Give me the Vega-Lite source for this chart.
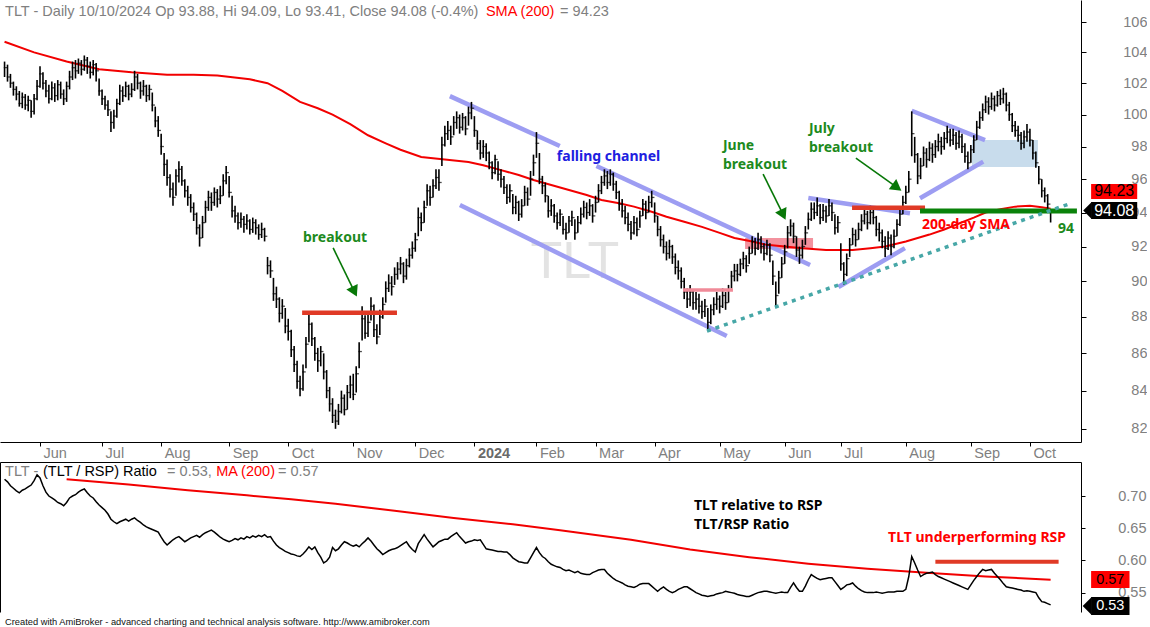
{
  "$schema": "https://vega.github.io/schema/vega-lite/v6.json",
  "padding": 0,
  "background": "#ffffff",
  "spacing": 20,
  "bounds": "flush",
  "config": {
    "view": {"stroke": null},
    "axis": {"labelFont": "Liberation Sans", "labelFontSize": 14.5, "labelColor": "#808080"},
    "text": {"font": "Liberation Sans"}
  },
  "datasets": {
    "bars": [
      {"i":-12,"h":103.4,"l":102.4,"c":103.0,"r":0.726},{"i":-11,"h":103.2,"l":102.1,"c":102.4,"r":0.722},{"i":-10,"h":102.6,"l":101.7,"c":102.0,"r":0.716},{"i":-9,"h":102.1,"l":101.2,"c":101.6,"r":0.712},{"i":-8,"h":101.8,"l":100.9,"c":101.3,"r":0.708},{"i":-7,"h":101.5,"l":100.5,"c":100.7,"r":0.705},{"i":-6,"h":101.4,"l":100.4,"c":101.1,"r":0.709},{"i":-5,"h":101.3,"l":100.3,"c":100.6,"r":0.711},{"i":-4,"h":101.2,"l":100.2,"c":100.9,"r":0.714},{"i":-3,"h":100.9,"l":99.8,"c":100.2,"r":0.717},
      {"i":-2,"h":101.3,"l":100.0,"c":101.0,"r":0.724},{"i":-1,"h":102.2,"l":100.9,"c":101.8,"r":0.733},{"i":0,"h":103.1,"l":101.7,"c":102.6,"r":0.728},{"i":1,"h":102.7,"l":101.6,"c":102.0,"r":0.716},{"i":2,"h":102.2,"l":101.1,"c":101.5,"r":0.706},{"i":3,"h":101.9,"l":100.7,"c":101.0,"r":0.700},{"i":4,"h":102.1,"l":100.9,"c":101.7,"r":0.697},{"i":5,"h":102.0,"l":100.8,"c":101.2,"r":0.694},{"i":6,"h":102.2,"l":100.9,"c":101.9,"r":0.690},{"i":7,"h":102.1,"l":101.0,"c":101.3,"r":0.688},
      {"i":8,"h":101.6,"l":100.6,"c":101.0,"r":0.685},{"i":9,"h":102.1,"l":100.8,"c":101.8,"r":0.690},{"i":10,"h":102.8,"l":101.6,"c":102.4,"r":0.697},{"i":11,"h":103.4,"l":102.2,"c":103.0,"r":0.700},{"i":12,"h":103.5,"l":102.3,"c":102.8,"r":0.702},{"i":13,"h":103.6,"l":102.6,"c":103.3,"r":0.706},{"i":14,"h":103.5,"l":102.5,"c":102.9,"r":0.709},{"i":15,"h":103.8,"l":102.8,"c":103.5,"r":0.711},{"i":16,"h":103.7,"l":102.6,"c":103.1,"r":0.705},{"i":17,"h":103.4,"l":102.3,"c":102.7,"r":0.700},
      {"i":18,"h":103.5,"l":102.5,"c":103.2,"r":0.697},{"i":19,"h":103.3,"l":102.1,"c":102.8,"r":0.691},{"i":20,"h":102.3,"l":101.2,"c":101.5,"r":0.686},{"i":21,"h":101.6,"l":100.6,"c":101.0,"r":0.682},{"i":22,"h":101.2,"l":100.3,"c":100.6,"r":0.678},{"i":23,"h":100.9,"l":99.9,"c":100.3,"r":0.672},{"i":24,"h":100.2,"l":98.9,"c":99.5,"r":0.664},{"i":25,"h":100.3,"l":99.1,"c":99.9,"r":0.660},{"i":26,"h":101.0,"l":99.8,"c":100.7,"r":0.657},{"i":27,"h":101.9,"l":100.6,"c":101.5,"r":0.660},
      {"i":28,"h":101.8,"l":100.8,"c":101.2,"r":0.662},{"i":29,"h":102.1,"l":101.1,"c":101.8,"r":0.664},{"i":30,"h":101.9,"l":100.9,"c":101.3,"r":0.661},{"i":31,"h":102.0,"l":101.1,"c":101.6,"r":0.664},{"i":32,"h":102.8,"l":101.5,"c":102.4,"r":0.666},{"i":33,"h":102.6,"l":101.6,"c":102.0,"r":0.662},{"i":34,"h":102.1,"l":101.0,"c":101.5,"r":0.659},{"i":35,"h":102.2,"l":101.2,"c":101.8,"r":0.655},{"i":36,"h":101.9,"l":100.8,"c":101.2,"r":0.652},{"i":37,"h":101.9,"l":100.9,"c":101.6,"r":0.650},
      {"i":38,"h":101.4,"l":100.2,"c":100.6,"r":0.648},{"i":39,"h":100.5,"l":99.2,"c":99.6,"r":0.646},{"i":40,"h":99.9,"l":98.6,"c":99.0,"r":0.644},{"i":41,"h":98.8,"l":97.5,"c":98.0,"r":0.636},{"i":42,"h":97.6,"l":96.2,"c":96.9,"r":0.629},{"i":43,"h":97.2,"l":95.6,"c":96.1,"r":0.624},{"i":44,"h":96.3,"l":94.9,"c":95.4,"r":0.628},{"i":45,"h":95.8,"l":94.4,"c":94.9,"r":0.632},{"i":46,"h":96.6,"l":95.0,"c":96.2,"r":0.635},{"i":47,"h":97.1,"l":95.8,"c":96.6,"r":0.637},
      {"i":48,"h":96.8,"l":95.6,"c":95.9,"r":0.633},{"i":49,"h":96.0,"l":94.9,"c":95.3,"r":0.629},{"i":50,"h":95.6,"l":94.4,"c":94.9,"r":0.632},{"i":51,"h":95.1,"l":94.0,"c":94.3,"r":0.635},{"i":52,"h":94.6,"l":93.5,"c":93.9,"r":0.637},{"i":53,"h":94.0,"l":92.7,"c":93.1,"r":0.639},{"i":54,"h":93.3,"l":92.0,"c":92.5,"r":0.636},{"i":55,"h":93.8,"l":92.5,"c":93.4,"r":0.640},{"i":56,"h":94.7,"l":93.4,"c":94.3,"r":0.643},{"i":57,"h":95.3,"l":94.1,"c":94.9,"r":0.645},
      {"i":58,"h":95.2,"l":94.1,"c":94.6,"r":0.647},{"i":59,"h":95.5,"l":94.4,"c":95.2,"r":0.644},{"i":60,"h":95.4,"l":94.3,"c":94.8,"r":0.640},{"i":61,"h":95.6,"l":94.5,"c":95.0,"r":0.636},{"i":62,"h":96.3,"l":95.0,"c":95.9,"r":0.633},{"i":63,"h":96.8,"l":95.7,"c":96.4,"r":0.631},{"i":64,"h":96.2,"l":94.9,"c":95.2,"r":0.629},{"i":65,"h":95.0,"l":93.7,"c":94.1,"r":0.631},{"i":66,"h":94.4,"l":93.4,"c":93.8,"r":0.634},{"i":67,"h":94.0,"l":93.0,"c":93.4,"r":0.632},
      {"i":68,"h":94.0,"l":93.1,"c":93.6,"r":0.635},{"i":69,"h":93.8,"l":92.8,"c":93.3,"r":0.633},{"i":70,"h":93.9,"l":93.0,"c":93.5,"r":0.637},{"i":71,"h":93.6,"l":92.7,"c":93.0,"r":0.635},{"i":72,"h":93.7,"l":92.8,"c":93.4,"r":0.638},{"i":73,"h":93.6,"l":92.7,"c":93.1,"r":0.636},{"i":74,"h":93.3,"l":92.4,"c":92.7,"r":0.639},{"i":75,"h":93.4,"l":92.5,"c":93.0,"r":0.637},{"i":76,"h":93.1,"l":92.3,"c":92.6,"r":0.640},{"i":77,"h":91.4,"l":90.4,"c":90.9,"r":0.636},
      {"i":78,"h":91.2,"l":90.2,"c":90.6,"r":0.637},{"i":79,"h":90.2,"l":88.9,"c":89.3,"r":0.630},{"i":80,"h":89.7,"l":88.5,"c":89.0,"r":0.624},{"i":81,"h":89.1,"l":87.7,"c":88.2,"r":0.620},{"i":82,"h":89.0,"l":87.9,"c":88.6,"r":0.617},{"i":83,"h":88.5,"l":87.1,"c":87.5,"r":0.614},{"i":84,"h":87.9,"l":86.7,"c":87.2,"r":0.612},{"i":85,"h":87.3,"l":85.8,"c":86.2,"r":0.610},{"i":86,"h":86.4,"l":85.0,"c":85.4,"r":0.609},{"i":87,"h":85.6,"l":84.1,"c":84.5,"r":0.607},
      {"i":88,"h":84.8,"l":83.7,"c":84.1,"r":0.606},{"i":89,"h":85.4,"l":84.0,"c":85.0,"r":0.610},{"i":90,"h":86.9,"l":85.2,"c":86.5,"r":0.615},{"i":91,"h":88.2,"l":86.6,"c":87.6,"r":0.621},{"i":92,"h":87.7,"l":86.4,"c":86.8,"r":0.617},{"i":93,"h":86.9,"l":85.6,"c":86.0,"r":0.621},{"i":94,"h":86.3,"l":85.0,"c":85.6,"r":0.612},{"i":95,"h":86.4,"l":85.3,"c":86.1,"r":0.605},{"i":96,"h":86.0,"l":84.6,"c":85.0,"r":0.596},{"i":97,"h":85.1,"l":83.6,"c":84.0,"r":0.599},
      {"i":98,"h":84.2,"l":82.9,"c":83.3,"r":0.605},{"i":99,"h":83.6,"l":82.3,"c":82.7,"r":0.620},{"i":100,"h":83.0,"l":82.0,"c":82.4,"r":0.615},{"i":101,"h":83.3,"l":82.2,"c":82.9,"r":0.618},{"i":102,"h":84.0,"l":82.8,"c":83.6,"r":0.624},{"i":103,"h":83.8,"l":82.7,"c":83.0,"r":0.629},{"i":104,"h":84.3,"l":83.0,"c":83.9,"r":0.627},{"i":105,"h":84.8,"l":83.6,"c":84.3,"r":0.624},{"i":106,"h":84.9,"l":83.5,"c":83.8,"r":0.622},{"i":107,"h":85.3,"l":83.9,"c":84.9,"r":0.624},
      {"i":108,"h":86.6,"l":85.2,"c":86.1,"r":0.621},{"i":109,"h":88.6,"l":86.7,"c":87.9,"r":0.626},{"i":110,"h":88.1,"l":86.8,"c":87.1,"r":0.630},{"i":111,"h":88.3,"l":86.9,"c":87.7,"r":0.635},{"i":112,"h":89.1,"l":87.8,"c":88.6,"r":0.630},{"i":113,"h":88.7,"l":86.9,"c":87.3,"r":0.624},{"i":114,"h":87.6,"l":86.5,"c":86.9,"r":0.618},{"i":115,"h":88.4,"l":87.0,"c":88.0,"r":0.614},{"i":116,"h":89.1,"l":87.9,"c":88.7,"r":0.609},{"i":117,"h":90.0,"l":88.8,"c":89.6,"r":0.612},
      {"i":118,"h":90.4,"l":89.4,"c":89.9,"r":0.615},{"i":119,"h":90.3,"l":89.2,"c":89.7,"r":0.617},{"i":120,"h":90.8,"l":89.8,"c":90.4,"r":0.618},{"i":121,"h":91.1,"l":90.1,"c":90.7,"r":0.620},{"i":122,"h":91.4,"l":90.4,"c":91.0,"r":0.623},{"i":123,"h":91.1,"l":89.9,"c":90.3,"r":0.626},{"i":124,"h":91.3,"l":90.1,"c":90.9,"r":0.629},{"i":125,"h":91.9,"l":90.8,"c":91.5,"r":0.622},{"i":126,"h":92.3,"l":91.3,"c":91.9,"r":0.617},{"i":127,"h":92.8,"l":91.7,"c":92.4,"r":0.613},
      {"i":128,"h":94.3,"l":92.6,"c":93.7,"r":0.626},{"i":129,"h":94.0,"l":92.9,"c":93.4,"r":0.633},{"i":130,"h":94.7,"l":93.4,"c":94.3,"r":0.640},{"i":131,"h":95.7,"l":94.4,"c":95.3,"r":0.633},{"i":132,"h":95.6,"l":94.4,"c":94.9,"r":0.627},{"i":133,"h":96.0,"l":94.9,"c":95.6,"r":0.621},{"i":134,"h":96.6,"l":95.4,"c":96.1,"r":0.625},{"i":135,"h":96.6,"l":95.3,"c":95.8,"r":0.629},{"i":136,"h":98.6,"l":96.8,"c":98.1,"r":0.631},{"i":137,"h":99.3,"l":98.0,"c":98.8,"r":0.633},
      {"i":138,"h":99.6,"l":98.4,"c":99.0,"r":0.633},{"i":139,"h":99.3,"l":98.1,"c":98.6,"r":0.637},{"i":140,"h":99.9,"l":98.7,"c":99.5,"r":0.640},{"i":141,"h":100.2,"l":99.1,"c":99.8,"r":0.643},{"i":142,"h":100.0,"l":98.8,"c":99.2,"r":0.637},{"i":143,"h":100.1,"l":99.0,"c":99.8,"r":0.632},{"i":144,"h":99.9,"l":98.7,"c":99.1,"r":0.627},{"i":145,"h":100.5,"l":99.3,"c":100.1,"r":0.629},{"i":146,"h":100.8,"l":99.7,"c":100.4,"r":0.630},{"i":147,"h":99.9,"l":98.6,"c":99.0,"r":0.632},
      {"i":148,"h":99.0,"l":97.8,"c":98.2,"r":0.631},{"i":149,"h":98.4,"l":97.2,"c":97.6,"r":0.632},{"i":150,"h":98.4,"l":97.3,"c":98.0,"r":0.625},{"i":151,"h":98.2,"l":97.1,"c":97.6,"r":0.618},{"i":152,"h":97.7,"l":96.6,"c":97.0,"r":0.617},{"i":153,"h":97.1,"l":96.0,"c":96.4,"r":0.616},{"i":154,"h":97.5,"l":96.3,"c":97.2,"r":0.615},{"i":155,"h":97.1,"l":95.9,"c":96.3,"r":0.614},{"i":156,"h":96.6,"l":95.5,"c":96.0,"r":0.614},{"i":157,"h":96.2,"l":95.1,"c":95.5,"r":0.613},
      {"i":158,"h":95.7,"l":94.5,"c":94.9,"r":0.613},{"i":159,"h":95.7,"l":94.6,"c":95.3,"r":0.609},{"i":160,"h":95.1,"l":93.9,"c":94.3,"r":0.604},{"i":161,"h":95.0,"l":93.9,"c":94.6,"r":0.601},{"i":162,"h":94.7,"l":93.5,"c":93.9,"r":0.598},{"i":163,"h":94.8,"l":93.7,"c":94.4,"r":0.597},{"i":164,"h":95.6,"l":94.4,"c":95.2,"r":0.596},{"i":165,"h":95.5,"l":94.4,"c":94.8,"r":0.596},{"i":166,"h":96.5,"l":95.0,"c":96.0,"r":0.604},{"i":167,"h":97.5,"l":96.2,"c":97.0,"r":0.612},
      {"i":168,"h":98.9,"l":97.3,"c":98.2,"r":0.620},{"i":169,"h":97.6,"l":95.7,"c":96.0,"r":0.612},{"i":170,"h":96.2,"l":95.1,"c":95.6,"r":0.606},{"i":171,"h":95.8,"l":94.6,"c":95.0,"r":0.603},{"i":172,"h":95.0,"l":93.7,"c":94.1,"r":0.598},{"i":173,"h":94.8,"l":93.8,"c":94.4,"r":0.594},{"i":174,"h":94.5,"l":93.4,"c":93.8,"r":0.592},{"i":175,"h":94.0,"l":93.0,"c":93.4,"r":0.590},{"i":176,"h":94.2,"l":93.2,"c":93.9,"r":0.589},{"i":177,"h":93.8,"l":92.7,"c":93.0,"r":0.586},
      {"i":178,"h":93.4,"l":92.4,"c":92.8,"r":0.584},{"i":179,"h":93.8,"l":92.8,"c":93.5,"r":0.585},{"i":180,"h":94.1,"l":93.2,"c":93.7,"r":0.583},{"i":181,"h":93.6,"l":92.4,"c":92.8,"r":0.581},{"i":182,"h":93.8,"l":92.8,"c":93.4,"r":0.583},{"i":183,"h":94.3,"l":93.3,"c":93.9,"r":0.580},{"i":184,"h":94.7,"l":93.7,"c":94.3,"r":0.579},{"i":185,"h":94.6,"l":93.6,"c":94.0,"r":0.578},{"i":186,"h":94.8,"l":93.8,"c":94.4,"r":0.578},{"i":187,"h":94.5,"l":93.4,"c":93.8,"r":0.581},
      {"i":188,"h":95.0,"l":94.0,"c":94.6,"r":0.583},{"i":189,"h":95.7,"l":94.6,"c":95.3,"r":0.585},{"i":190,"h":96.2,"l":95.1,"c":95.8,"r":0.586},{"i":191,"h":96.6,"l":95.6,"c":96.2,"r":0.586},{"i":192,"h":96.5,"l":95.4,"c":95.8,"r":0.580},{"i":193,"h":96.6,"l":95.6,"c":96.3,"r":0.576},{"i":194,"h":96.4,"l":95.3,"c":95.7,"r":0.572},{"i":195,"h":95.9,"l":94.8,"c":95.2,"r":0.569},{"i":196,"h":95.3,"l":94.1,"c":94.5,"r":0.567},{"i":197,"h":94.8,"l":93.7,"c":94.1,"r":0.565},
      {"i":198,"h":94.4,"l":93.3,"c":93.7,"r":0.562},{"i":199,"h":94.0,"l":92.9,"c":93.3,"r":0.560},{"i":200,"h":93.5,"l":92.4,"c":92.8,"r":0.559},{"i":201,"h":93.8,"l":92.7,"c":93.4,"r":0.558},{"i":202,"h":93.7,"l":92.6,"c":93.0,"r":0.560},{"i":203,"h":94.1,"l":93.1,"c":93.8,"r":0.563},{"i":204,"h":94.8,"l":93.8,"c":94.5,"r":0.564},{"i":205,"h":94.7,"l":93.6,"c":94.0,"r":0.564},{"i":206,"h":95.0,"l":94.0,"c":94.6,"r":0.564},{"i":207,"h":95.3,"l":94.3,"c":94.9,"r":0.560},
      {"i":208,"h":94.6,"l":93.4,"c":93.8,"r":0.556},{"i":209,"h":93.8,"l":92.6,"c":93.0,"r":0.552},{"i":210,"h":93.2,"l":92.0,"c":92.4,"r":0.556},{"i":211,"h":92.7,"l":91.6,"c":92.0,"r":0.559},{"i":212,"h":92.3,"l":91.2,"c":91.6,"r":0.555},{"i":213,"h":92.4,"l":91.3,"c":92.0,"r":0.552},{"i":214,"h":92.1,"l":91.0,"c":91.4,"r":0.550},{"i":215,"h":91.6,"l":90.4,"c":90.8,"r":0.552},{"i":216,"h":91.2,"l":90.1,"c":90.6,"r":0.555},{"i":217,"h":90.8,"l":89.6,"c":90.0,"r":0.557},
      {"i":218,"h":90.2,"l":89.0,"c":89.4,"r":0.559},{"i":219,"h":89.6,"l":88.5,"c":89.0,"r":0.559},{"i":220,"h":89.8,"l":88.6,"c":89.4,"r":0.556},{"i":221,"h":89.5,"l":88.4,"c":88.8,"r":0.553},{"i":222,"h":89.4,"l":88.4,"c":89.0,"r":0.550},{"i":223,"h":89.3,"l":88.2,"c":88.6,"r":0.548},{"i":224,"h":88.9,"l":87.9,"c":88.3,"r":0.546},{"i":225,"h":89.0,"l":88.0,"c":88.6,"r":0.545},{"i":226,"h":88.5,"l":87.3,"c":87.7,"r":0.544},{"i":227,"h":88.7,"l":87.6,"c":88.4,"r":0.545},
      {"i":228,"h":89.1,"l":88.1,"c":88.7,"r":0.546},{"i":229,"h":89.4,"l":88.4,"c":89.0,"r":0.548},{"i":230,"h":89.2,"l":88.2,"c":88.6,"r":0.549},{"i":231,"h":89.6,"l":88.5,"c":89.2,"r":0.550},{"i":232,"h":89.4,"l":88.4,"c":88.8,"r":0.552},{"i":233,"h":89.8,"l":88.8,"c":89.5,"r":0.551},{"i":234,"h":90.6,"l":89.6,"c":90.3,"r":0.550},{"i":235,"h":91.0,"l":90.0,"c":90.6,"r":0.549},{"i":236,"h":91.0,"l":90.0,"c":90.4,"r":0.547},{"i":237,"h":91.3,"l":90.3,"c":91.0,"r":0.546},
      {"i":238,"h":91.7,"l":90.7,"c":91.3,"r":0.545},{"i":239,"h":91.5,"l":90.5,"c":90.9,"r":0.544},{"i":240,"h":92.0,"l":91.0,"c":91.6,"r":0.544},{"i":241,"h":92.6,"l":91.6,"c":92.3,"r":0.546},{"i":242,"h":92.5,"l":91.5,"c":91.9,"r":0.548},{"i":243,"h":92.8,"l":91.8,"c":92.4,"r":0.550},{"i":244,"h":92.6,"l":91.6,"c":92.0,"r":0.551},{"i":245,"h":92.2,"l":91.2,"c":91.6,"r":0.552},{"i":246,"h":92.4,"l":91.5,"c":92.1,"r":0.552},{"i":247,"h":92.2,"l":91.1,"c":91.5,"r":0.551},
      {"i":248,"h":91.2,"l":89.8,"c":90.3,"r":0.550},{"i":249,"h":90.0,"l":88.6,"c":89.2,"r":0.549},{"i":250,"h":90.6,"l":89.3,"c":90.2,"r":0.550},{"i":251,"h":91.4,"l":90.2,"c":91.0,"r":0.551},{"i":252,"h":92.1,"l":91.0,"c":91.7,"r":0.550},{"i":253,"h":93.2,"l":91.9,"c":92.8,"r":0.550},{"i":254,"h":93.6,"l":92.6,"c":93.2,"r":0.558},{"i":255,"h":93.4,"l":92.2,"c":92.6,"r":0.565},{"i":256,"h":92.6,"l":91.4,"c":91.8,"r":0.558},{"i":257,"h":92.0,"l":91.0,"c":91.5,"r":0.552},
      {"i":258,"h":92.4,"l":91.3,"c":92.0,"r":0.552},{"i":259,"h":93.2,"l":92.1,"c":92.8,"r":0.560},{"i":260,"h":94.0,"l":93.0,"c":93.6,"r":0.570},{"i":261,"h":94.6,"l":93.5,"c":94.2,"r":0.578},{"i":262,"h":94.6,"l":93.6,"c":94.0,"r":0.575},{"i":263,"h":94.9,"l":93.8,"c":94.4,"r":0.572},{"i":264,"h":94.5,"l":93.3,"c":93.7,"r":0.570},{"i":265,"h":94.5,"l":93.5,"c":94.1,"r":0.571},{"i":266,"h":94.4,"l":93.4,"c":93.8,"r":0.572},{"i":267,"h":94.8,"l":93.8,"c":94.4,"r":0.573},
      {"i":268,"h":94.6,"l":93.5,"c":94.0,"r":0.573},{"i":269,"h":93.9,"l":92.7,"c":93.1,"r":0.567},{"i":270,"h":93.8,"l":92.8,"c":93.4,"r":0.561},{"i":271,"h":92.2,"l":90.6,"c":91.0,"r":0.555},{"i":272,"h":91.1,"l":89.8,"c":90.4,"r":0.558},{"i":273,"h":91.6,"l":90.3,"c":91.3,"r":0.562},{"i":274,"h":92.5,"l":91.4,"c":92.1,"r":0.563},{"i":275,"h":93.1,"l":92.1,"c":92.7,"r":0.565},{"i":276,"h":93.0,"l":92.0,"c":92.4,"r":0.560},{"i":277,"h":93.4,"l":92.4,"c":93.0,"r":0.556},
      {"i":278,"h":93.9,"l":92.9,"c":93.5,"r":0.553},{"i":279,"h":94.3,"l":93.3,"c":93.9,"r":0.551},{"i":280,"h":94.1,"l":93.0,"c":93.4,"r":0.550},{"i":281,"h":94.4,"l":93.3,"c":94.0,"r":0.550},{"i":282,"h":94.3,"l":93.3,"c":93.7,"r":0.550},{"i":283,"h":93.8,"l":92.6,"c":93.0,"r":0.551},{"i":284,"h":93.4,"l":92.3,"c":92.8,"r":0.550},{"i":285,"h":93.0,"l":91.9,"c":92.3,"r":0.549},{"i":286,"h":92.6,"l":91.4,"c":91.9,"r":0.550},{"i":287,"h":92.9,"l":91.8,"c":92.5,"r":0.551},
      {"i":288,"h":92.7,"l":91.5,"c":92.0,"r":0.551},{"i":289,"h":93.0,"l":91.9,"c":92.6,"r":0.551},{"i":290,"h":93.6,"l":92.6,"c":93.3,"r":0.552},{"i":291,"h":94.3,"l":93.2,"c":93.9,"r":0.552},{"i":292,"h":95.0,"l":93.9,"c":94.6,"r":0.552},{"i":293,"h":95.6,"l":94.5,"c":95.2,"r":0.555},{"i":294,"h":96.5,"l":95.2,"c":96.0,"r":0.575},{"i":295,"h":100.2,"l":97.4,"c":98.8,"r":0.606},{"i":296,"h":98.6,"l":97.0,"c":97.5,"r":0.596},{"i":297,"h":97.6,"l":95.7,"c":96.2,"r":0.585},
      {"i":298,"h":97.3,"l":96.0,"c":96.8,"r":0.575},{"i":299,"h":98.0,"l":96.8,"c":97.6,"r":0.578},{"i":300,"h":97.9,"l":96.7,"c":97.2,"r":0.580},{"i":301,"h":98.3,"l":97.1,"c":97.9,"r":0.581},{"i":302,"h":98.2,"l":97.0,"c":97.5,"r":0.582},{"i":303,"h":98.4,"l":97.3,"c":98.0,"r":0.578},{"i":304,"h":98.8,"l":97.7,"c":98.3,"r":0.575},{"i":305,"h":98.6,"l":97.5,"c":98.0,"r":0.573},{"i":306,"h":98.9,"l":97.8,"c":98.5,"r":0.571},{"i":307,"h":99.3,"l":98.2,"c":98.9,"r":0.569},
      {"i":308,"h":99.1,"l":98.0,"c":98.4,"r":0.567},{"i":309,"h":99.1,"l":98.1,"c":98.7,"r":0.565},{"i":310,"h":98.9,"l":97.8,"c":98.2,"r":0.563},{"i":311,"h":99.0,"l":97.9,"c":98.6,"r":0.561},{"i":312,"h":98.8,"l":97.6,"c":98.0,"r":0.559},{"i":313,"h":98.2,"l":97.0,"c":97.4,"r":0.557},{"i":314,"h":97.7,"l":96.6,"c":97.0,"r":0.555},{"i":315,"h":98.1,"l":97.0,"c":97.8,"r":0.562},{"i":316,"h":98.7,"l":97.6,"c":98.4,"r":0.569},{"i":317,"h":99.6,"l":98.4,"c":99.2,"r":0.575},
      {"i":318,"h":100.2,"l":99.1,"c":99.8,"r":0.581},{"i":319,"h":100.7,"l":99.6,"c":100.3,"r":0.586},{"i":320,"h":101.2,"l":100.1,"c":100.8,"r":0.584},{"i":321,"h":101.1,"l":100.0,"c":100.5,"r":0.585},{"i":322,"h":101.4,"l":100.3,"c":101.0,"r":0.586},{"i":323,"h":101.2,"l":100.2,"c":100.6,"r":0.580},{"i":324,"h":101.5,"l":100.5,"c":101.2,"r":0.575},{"i":325,"h":101.6,"l":100.6,"c":101.0,"r":0.570},{"i":326,"h":101.7,"l":100.7,"c":101.3,"r":0.564},{"i":327,"h":101.4,"l":100.2,"c":100.6,"r":0.559},
      {"i":328,"h":100.8,"l":99.6,"c":100.0,"r":0.558},{"i":329,"h":100.1,"l":98.9,"c":99.3,"r":0.557},{"i":330,"h":99.6,"l":98.6,"c":99.0,"r":0.556},{"i":331,"h":99.3,"l":98.3,"c":98.7,"r":0.555},{"i":332,"h":98.9,"l":97.8,"c":98.2,"r":0.554},{"i":333,"h":99.0,"l":97.9,"c":98.6,"r":0.552},{"i":334,"h":99.4,"l":98.3,"c":98.9,"r":0.553},{"i":335,"h":99.1,"l":98.0,"c":98.4,"r":0.552},{"i":336,"h":98.4,"l":97.2,"c":97.6,"r":0.551},{"i":337,"h":97.7,"l":96.7,"c":97.0,"r":0.550},
      {"i":338,"h":96.8,"l":95.7,"c":96.0,"r":0.542},{"i":339,"h":96.0,"l":94.9,"c":95.3,"r":0.536},{"i":340,"h":95.5,"l":94.6,"c":95.0,"r":0.535},{"i":341,"h":95.1,"l":94.0,"c":94.5,"r":0.533},{"i":342,"h":94.09,"l":93.41,"c":94.08,"r":0.531}
    ],
    "sma": [
      {"i":-12,"p":104.7},{"i":-2,"p":104.0},{"i":9,"p":103.4},{"i":20,"p":102.9},{"i":31,"p":102.7},{"i":43,"p":102.55},{"i":52,"p":102.55},{"i":60,"p":102.5},{"i":71,"p":102.25},{"i":77,"p":102.0},{"i":82,"p":101.5},{"i":88,"p":100.8},{"i":94,"p":100.4},{"i":99,"p":100.0},{"i":105,"p":99.4},{"i":111,"p":98.7},{"i":117,"p":98.2},{"i":122,"p":97.8},{"i":129,"p":97.35},{"i":137,"p":97.2},{"i":145,"p":97.05},{"i":150,"p":96.85},{"i":156,"p":96.55},{"i":162,"p":96.25},{"i":167,"p":95.95},{"i":173,"p":95.65},{"i":179,"p":95.35},{"i":185,"p":95.05},{"i":190,"p":94.75},{"i":196,"p":94.55},{"i":201,"p":94.35},{"i":207,"p":94.05},{"i":212,"p":93.75},{"i":218,"p":93.45},{"i":224,"p":93.15},{"i":230,"p":92.8},{"i":235,"p":92.5},{"i":241,"p":92.3},{"i":246,"p":92.1},{"i":252,"p":92.0},{"i":258,"p":91.9},{"i":266,"p":91.8},{"i":275,"p":91.8},{"i":281,"p":91.9},{"i":286,"p":92.0},{"i":293,"p":92.3},{"i":301,"p":92.7},{"i":306,"p":93.0},{"i":311,"p":93.35},{"i":316,"p":93.7},{"i":320,"p":94.0},{"i":325,"p":94.2},{"i":330,"p":94.35},{"i":335,"p":94.4},{"i":339,"p":94.32},{"i":342,"p":94.23}
    ],
    "ma": [
      {"i":9,"v":0.726},{"i":30,"v":0.718},{"i":50,"v":0.709},{"i":70,"v":0.701},{"i":85,"v":0.695},{"i":100,"v":0.688},{"i":120,"v":0.677},{"i":140,"v":0.666},{"i":160,"v":0.656},{"i":176,"v":0.647},{"i":200,"v":0.632},{"i":220,"v":0.617},{"i":240,"v":0.605},{"i":260,"v":0.595},{"i":280,"v":0.587},{"i":300,"v":0.581},{"i":320,"v":0.575},{"i":342,"v":0.570}
    ]
  },
  "vconcat": [
    {
      "width": 1081,
      "height": 442,
      "encoding": {
        "x": {
          "field": "i", "type": "quantitative",
          "scale": {"domain": [-13.54, 352.28], "nice": false, "zero": false},
          "axis": {
            "title": null, "grid": false,
            "values": [0,21,41,64,84,106,127,147,168,188,208,230,252,271,293,315,335],
            "labelExpr": "['Jun','Jul','Aug','Sep','Oct','Nov','Dec','2024','Feb','Mar','Apr','May','Jun','Jul','Aug','Sep','Oct'][indexof([0,21,41,64,84,106,127,147,168,188,208,230,252,271,293,315,335], datum.value)]",
            "domainColor": "#000000", "tickColor": "#000000", "tickSize": 4,
            "labelAlign": "left", "labelOffset": 3, "labelBaseline": "alphabetic", "labelPadding": 11,
            "labelOverlap": false, "labelFlush": false,
            "labelColor": {"condition": {"test": "datum.value == 147", "value": "#6a6a6a"}, "value": "#808080"},
            "labelFontWeight": {"condition": {"test": "datum.value == 147", "value": "bold"}, "value": "normal"}
          }
        },
        "y": {
          "field": "p", "type": "quantitative",
          "scale": {"type": "log", "domain": [81.32, 107.5], "nice": false, "zero": false},
          "axis": {
            "orient": "right", "title": null, "grid": false,
            "values": [82,84,86,88,90,92,94,96,98,100,102,104,106], "format": "d",
            "domainColor": "#000000", "tickColor": "#000000", "tickSize": 5,
            "labelAlign": "right", "labelPadding": 61, "labelBaseline": "middle", "labelOverlap": false
          }
        }
      },
      "layer": [
        {
          "data": {"values": [{"i": 181, "p": 91.1, "t": "TLT"}]},
          "mark": {"type": "text", "font": "Liberation Sans", "fontSize": 52, "color": "#e3e3e3", "align": "center", "baseline": "middle"},
          "encoding": {"text": {"field": "t"}}
        },
        {
          "data": {"values": [{"i": 315.4, "i2": 337.7, "p": 98.4, "p2": 96.74}]},
          "mark": {"type": "rect", "color": "#c8dcec"},
          "encoding": {"x2": {"field": "i2"}, "y2": {"field": "p2"}}
        },
        {
          "data": {"values": [{"i": 238.6, "i2": 261.6, "p": 92.5, "p2": 91.86}]},
          "mark": {"type": "rect", "color": "#f3929e"},
          "encoding": {"x2": {"field": "i2"}, "y2": {"field": "p2"}}
        },
        {
          "data": {"values": [
            {"i": 138.7, "p": 101.17, "i2": 175.9, "p2": 98.03},
            {"i": 188.3, "p": 96.8, "i2": 260.6, "p2": 90.94},
            {"i": 142.1, "p": 94.45, "i2": 232.4, "p2": 86.95},
            {"i": 260, "p": 94.86, "i2": 294.4, "p2": 93.96},
            {"i": 270.2, "p": 89.68, "i2": 292.7, "p2": 91.91},
            {"i": 295, "p": 100.24, "i2": 319.8, "p2": 98.4},
            {"i": 297.8, "p": 94.85, "i2": 319.2, "p2": 97.07}
          ]},
          "mark": {"type": "rule", "color": "#9d9df2", "strokeWidth": 4.5},
          "encoding": {"x2": {"field": "i2"}, "y2": {"field": "p2"}}
        },
        {
          "data": {"name": "sma"},
          "mark": {"type": "line", "color": "#f20000", "strokeWidth": 2},
          "encoding": {}
        },
        {
          "data": {"name": "bars"},
          "mark": {"type": "rule", "color": "#000000", "strokeWidth": 1.6},
          "encoding": {
            "y": {"field": "l", "type": "quantitative", "scale": {"type": "log", "domain": [81.32, 107.5], "nice": false, "zero": false}},
            "y2": {"field": "h"}
          }
        },
        {
          "data": {"name": "bars"},
          "mark": {"type": "tick", "orient": "horizontal", "color": "#000000", "size": 3.5, "thickness": 1.3, "xOffset": 1},
          "encoding": {
            "y": {"field": "c", "type": "quantitative", "scale": {"type": "log", "domain": [81.32, 107.5], "nice": false, "zero": false}}
          }
        },
        {
          "data": {"values": [{"i": 217.6, "i2": 234.5, "p": 89.51}]},
          "mark": {"type": "rule", "color": "#f08a98", "strokeWidth": 3.5},
          "encoding": {"x2": {"field": "i2"}}
        },
        {
          "data": {"values": [{"i": 88.7, "i2": 120.8, "p": 88.24}, {"i": 274.8, "i2": 299.5, "p": 94.29}]},
          "mark": {"type": "rule", "color": "#e03a26", "strokeWidth": 4.5},
          "encoding": {"x2": {"field": "i2"}}
        },
        {
          "data": {"values": [{"i": 297.8, "i2": 350.9, "p": 94.09}]},
          "mark": {"type": "rule", "color": "#0a820a", "strokeWidth": 5},
          "encoding": {"x2": {"field": "i2"}}
        },
        {
          "data": {"values": [{"i": 225.7, "p": 87.22, "i2": 349.2, "p2": 94.57}]},
          "mark": {"type": "rule", "color": "#47a7a7", "strokeWidth": 3.5, "strokeDash": [4, 5]},
          "encoding": {"x2": {"field": "i2"}, "y2": {"field": "p2"}}
        },
        {
          "data": {"values": [
            {"i": 99.2, "p": 91.92, "i2": 106.4, "p2": 89.42},
            {"i": 244.7, "p": 96.31, "i2": 251.5, "p2": 93.87},
            {"i": 276.1, "p": 97.29, "i2": 290.0, "p2": 95.5}
          ]},
          "mark": {"type": "rule", "color": "#087808", "strokeWidth": 1.6},
          "encoding": {"x2": {"field": "i2"}, "y2": {"field": "p2"}}
        },
        {
          "data": {"values": [{"i": 106.4, "p": 89.42}, {"i": 251.5, "p": 93.87}]},
          "mark": {"type": "point", "shape": "triangle-down", "angle": 334, "filled": true, "opacity": 1, "size": 160, "color": "#087808"},
          "encoding": {}
        },
        {
          "data": {"values": [{"i": 290.0, "p": 95.5}]},
          "mark": {"type": "point", "shape": "triangle-down", "angle": 306, "filled": true, "opacity": 1, "size": 160, "color": "#087808"},
          "encoding": {}
        },
        {
          "data": {"values": [
            {"i": 89.0, "p": 92.5, "t": "breakout"},
            {"i": 231.1, "p": 98.03, "t": "June"},
            {"i": 231.1, "p": 96.86, "t": "breakout"},
            {"i": 260.2, "p": 99.09, "t": "July"},
            {"i": 260.2, "p": 97.91, "t": "breakout"},
            {"i": 344.5, "p": 93.03, "t": "94"}
          ]},
          "mark": {"type": "text", "font": "Noto Sans", "fontWeight": "bold", "fontSize": 14, "color": "#1d8a1d", "align": "left", "baseline": "middle"},
          "encoding": {"text": {"field": "t"}}
        },
        {
          "data": {"values": [{"i": 174.9, "p": 97.35, "t": "falling channel"}]},
          "mark": {"type": "text", "font": "Noto Sans", "fontWeight": "bold", "fontSize": 14, "color": "#2020e0", "align": "left", "baseline": "middle"},
          "encoding": {"text": {"field": "t"}}
        },
        {
          "data": {"values": [{"i": 298.5, "p": 93.26, "t": "200-day SMA"}]},
          "mark": {"type": "text", "font": "Noto Sans", "fontWeight": "bold", "fontSize": 14, "color": "#ff0000", "align": "left", "baseline": "middle"},
          "encoding": {"text": {"field": "t"}}
        },
        {
          "data": {"values": [
            {"i": -11.84, "p": 106.69, "t": "TLT - Daily 10/10/2024 Op 93.88, Hi 94.09, Lo 93.41, Close 94.08 (-0.4%)"},
            {"i": 176, "p": 106.69, "t": "= 94.23"}
          ]},
          "mark": {"type": "text", "fontSize": 14.5, "color": "#808080", "align": "left", "baseline": "middle"},
          "encoding": {"text": {"field": "t"}}
        },
        {
          "data": {"values": [{"i": 150.9, "p": 106.69, "t": "SMA (200)"}]},
          "mark": {"type": "text", "fontSize": 14.5, "color": "#ff0000", "align": "left", "baseline": "middle"},
          "encoding": {"text": {"field": "t"}}
        },
        {
          "data": {"values": [{"i": 355.7, "i2": 371.3, "p": 95.71, "p2": 94.81}]},
          "mark": {"type": "rect", "color": "#ff0000"},
          "encoding": {"x2": {"field": "i2"}, "y2": {"field": "p2"}}
        },
        {
          "data": {"values": [{"i": 355.7, "i2": 371.3, "p": 94.63, "p2": 93.62}]},
          "mark": {"type": "rect", "color": "#000000"},
          "encoding": {"x2": {"field": "i2"}, "y2": {"field": "p2"}}
        },
        {
          "data": {"values": [{"i": 355.9, "p": 94.12}]},
          "mark": {"type": "point", "shape": "M0,-1L0,1L-1,0Z", "filled": true, "opacity": 1, "size": 289, "color": "#000000"},
          "encoding": {}
        },
        {
          "data": {"values": [{"i": 363.5, "p": 95.26, "t": "94.23"}]},
          "mark": {"type": "text", "fontSize": 16, "color": "#000000", "align": "center", "baseline": "middle"},
          "encoding": {"text": {"field": "t"}}
        },
        {
          "data": {"values": [{"i": 363.5, "p": 94.12, "t": "94.08"}]},
          "mark": {"type": "text", "fontSize": 16, "color": "#ffffff", "align": "center", "baseline": "middle"},
          "encoding": {"text": {"field": "t"}}
        }
      ]
    },
    {
      "width": 1081,
      "height": 150,
      "resolve": {"axis": {"y": "independent"}},
      "encoding": {
        "x": {
          "field": "i", "type": "quantitative",
          "scale": {"domain": [-13.54, 352.28], "nice": false, "zero": false},
          "axis": {"orient": "top", "title": null, "grid": false, "labels": false, "ticks": false, "domainColor": "#000000"}
        },
        "y": {
          "field": "v", "type": "quantitative",
          "scale": {"domain": [0.5199, 0.7528], "nice": false, "zero": false},
          "axis": null
        }
      },
      "layer": [
        {
          "data": {"name": "ma"},
          "mark": {"type": "line", "color": "#f20000", "strokeWidth": 2},
          "encoding": {
            "y": {
              "field": "v", "type": "quantitative",
              "scale": {"domain": [0.5199, 0.7528], "nice": false, "zero": false},
              "axis": {
                "orient": "right", "title": null, "grid": false,
                "values": [0.55, 0.6, 0.65, 0.7], "format": ".2f",
                "domainColor": "#000000", "tickColor": "#000000", "tickSize": 4,
                "labelAlign": "right", "labelPadding": 61, "labelBaseline": "middle", "labelOverlap": false
              }
            }
          }
        },
        {
          "data": {"name": "bars"},
          "mark": {"type": "line", "color": "#000000", "strokeWidth": 1.5},
          "encoding": {
            "y": {
              "field": "r", "type": "quantitative",
              "scale": {"domain": [0.5199, 0.7528], "nice": false, "zero": false},
              "axis": {"orient": "left", "title": null, "grid": false, "labels": false, "ticks": false, "domainColor": "#000000"}
            }
          }
        },
        {
          "data": {"values": [{"i": 303.0, "i2": 344.7, "v": 0.598}]},
          "mark": {"type": "rule", "color": "#e03a26", "strokeWidth": 4},
          "encoding": {"x2": {"field": "i2"}}
        },
        {
          "data": {"values": [{"i": 221.3, "v": 0.6845, "t": "TLT relative to RSP"}, {"i": 221.3, "v": 0.655, "t": "TLT/RSP Ratio"}]},
          "mark": {"type": "text", "font": "Noto Sans", "fontWeight": "bold", "fontSize": 14, "color": "#000000", "align": "left", "baseline": "middle"},
          "encoding": {"text": {"field": "t"}}
        },
        {
          "data": {"values": [{"i": 287.0, "v": 0.6348, "t": "TLT underperforming RSP"}]},
          "mark": {"type": "text", "font": "Noto Sans", "fontWeight": "bold", "fontSize": 14, "color": "#ff0000", "align": "left", "baseline": "middle"},
          "encoding": {"text": {"field": "t"}}
        },
        {
          "data": {"values": [{"i": -11.84, "v": 0.7373, "t": "TLT -"}, {"i": 43.0, "v": 0.7373, "t": "= 0.53,"}, {"i": 80.5, "v": 0.7373, "t": "= 0.57"}]},
          "mark": {"type": "text", "fontSize": 14.5, "color": "#808080", "align": "left", "baseline": "middle"},
          "encoding": {"text": {"field": "t"}}
        },
        {
          "data": {"values": [{"i": 1.02, "v": 0.7373, "t": "(TLT / RSP) Ratio"}]},
          "mark": {"type": "text", "fontSize": 14.5, "color": "#000000", "align": "left", "baseline": "middle"},
          "encoding": {"text": {"field": "t"}}
        },
        {
          "data": {"values": [{"i": 59.6, "v": 0.7373, "t": "MA (200)"}]},
          "mark": {"type": "text", "fontSize": 14.5, "color": "#ff0000", "align": "left", "baseline": "middle"},
          "encoding": {"text": {"field": "t"}}
        },
        {
          "data": {"values": [{"i": -11.84, "v": 0.5043, "t": "Created with AmiBroker - advanced charting and technical analysis software. http://www.amibroker.com"}]},
          "mark": {"type": "text", "fontSize": 9.3, "color": "#111111", "align": "left", "baseline": "middle"},
          "encoding": {"text": {"field": "t"}}
        },
        {
          "data": {"values": [{"i": 355.7, "i2": 368.7, "v": 0.5835, "v2": 0.5571}]},
          "mark": {"type": "rect", "color": "#ff0000"},
          "encoding": {"x2": {"field": "i2"}, "y2": {"field": "v2"}}
        },
        {
          "data": {"values": [{"i": 355.7, "i2": 368.7, "v": 0.5432, "v2": 0.5152}]},
          "mark": {"type": "rect", "color": "#000000"},
          "encoding": {"x2": {"field": "i2"}, "y2": {"field": "v2"}}
        },
        {
          "data": {"values": [{"i": 355.9, "v": 0.5292}]},
          "mark": {"type": "point", "shape": "M0,-1L0,1L-1,0Z", "filled": true, "opacity": 1, "size": 324, "color": "#000000"},
          "encoding": {}
        },
        {
          "data": {"values": [{"i": 362.2, "v": 0.5703, "t": "0.57"}]},
          "mark": {"type": "text", "fontSize": 14.5, "color": "#000000", "align": "center", "baseline": "middle"},
          "encoding": {"text": {"field": "t"}}
        },
        {
          "data": {"values": [{"i": 362.2, "v": 0.5292, "t": "0.53"}]},
          "mark": {"type": "text", "fontSize": 14.5, "color": "#ffffff", "align": "center", "baseline": "middle"},
          "encoding": {"text": {"field": "t"}}
        }
      ]
    }
  ]
}
